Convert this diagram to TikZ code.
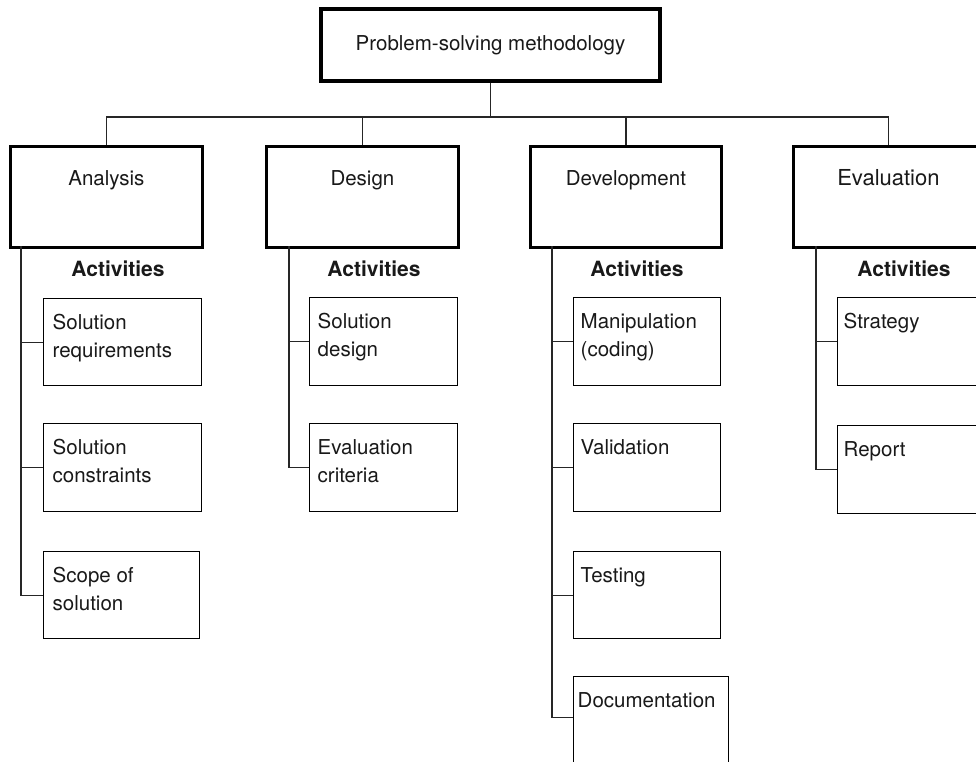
\documentclass[tikz,border=0pt]{standalone}
\usepackage{fontspec}
\setmainfont{TeX Gyre Heros}
\newcommand{\boxtxt}[4]{\vbox to #2{\hsize=#1\parindent=0pt\leftskip=#3\rightskip=0pt plus 1fil\baselineskip=28pt\noindent\rule{0pt}{31pt}#4\par\vfil}}
\newcommand{\phasetxt}[3]{\vbox to #2{\hsize=#1\parindent=0pt\leftskip=0pt plus 1fil\rightskip=0pt plus 1fil\parfillskip=0pt\noindent\rule{0pt}{39pt}#3\par\vfil}}
\begin{document}
\begin{tikzpicture}[x=1pt,y=-1pt,
  every node/.style={font=\fontsize{20.5}{28}\selectfont, text=black!90},
  topbox/.style={draw, line width=4pt, minimum width=339pt, minimum height=72pt, inner sep=0pt},
  phasebox/.style={draw, line width=2.8pt, anchor=north west, inner sep=0pt},
  actbox/.style={draw, line width=1.4pt, anchor=north west, inner sep=0pt},
  actlab/.style={font=\fontsize{21}{24}\selectfont\bfseries, inner sep=0pt},
  conn/.style={line width=1.3pt, black!85}
]
\useasboundingbox[fill=white] (0,0) rectangle (976,762);

% top
\node[topbox] (top) at (490.5,45) {Problem-solving methodology};
\coordinate (bus) at (490.5,117);

% phases
\node[phasebox] (an) at (9,145) {\phasetxt{192pt}{101pt}{Analysis}};
\node[phasebox] (de) at (265,145) {\phasetxt{192pt}{101pt}{Design}};
\node[phasebox] (dv) at (529,145) {\phasetxt{191pt}{101pt}{Development}};
\node[phasebox] (ev) at (792,145) {\phasetxt{190pt}{101pt}{\fontsize{22}{26}\selectfont Evaluation}};

\draw[conn] (top.south) -- (bus);
\draw[conn] (an.north) |- (bus);
\draw[conn] (de.north) |- (bus);
\draw[conn] (dv.north) |- (bus);
\draw[conn] (ev.north) |- (bus);

% activity headings
\node[actlab] (ah) at (118,269) {Activities};
\node[actlab] (dh) at (374,269) {Activities};
\node[actlab] (vh) at (637,269) {Activities};
\node[actlab] (eh) at (904,269) {Activities};

% analysis activities
\node[actbox] (a1) at (43,298) {\boxtxt{158pt}{87pt}{9pt}{Solution\\requirements}};
\node[actbox] (a2) at (43,423) {\boxtxt{158pt}{88pt}{9pt}{Solution\\constraints}};
\node[actbox] (a3) at (43,551) {\boxtxt{156pt}{87pt}{9pt}{Scope of\\solution}};
% design activities
\node[actbox] (d1) at (309,297) {\boxtxt{148pt}{88pt}{8pt}{Solution\\design}};
\node[actbox] (d2) at (309,423) {\boxtxt{148pt}{88pt}{8pt}{Evaluation\\criteria}};
% development activities
\node[actbox] (v1) at (573,297) {\boxtxt{147pt}{88pt}{7pt}{Manipulation\\(coding)}};
\node[actbox] (v2) at (573,423) {\boxtxt{147pt}{88pt}{7pt}{Validation}};
\node[actbox] (v3) at (573,551) {\boxtxt{147pt}{87pt}{7pt}{Testing}};
\node[actbox] (v4) at (573,676) {\boxtxt{155pt}{88pt}{4pt}{Documentation}};
% evaluation activities
\node[actbox] (e1) at (837,297) {\boxtxt{150pt}{88pt}{6pt}{Strategy}};
\node[actbox] (e2) at (837,425) {\boxtxt{150pt}{88pt}{6pt}{Report}};

% spines
\coordinate (as) at (21,246);
\coordinate (ds) at (289,246);
\coordinate (vs) at (552,246);
\coordinate (es) at (816,246);

\draw[conn] (as) |- (a1.west);
\draw[conn] (as) |- (a2.west);
\draw[conn] (as) |- (a3.west);
\draw[conn] (ds) |- (d1.west);
\draw[conn] (ds) |- (d2.west);
\draw[conn] (vs) |- (v1.west);
\draw[conn] (vs) |- (v2.west);
\draw[conn] (vs) |- (v3.west);
\draw[conn] (vs) |- ([yshift=3pt]v4.west);
\draw[conn] (es) |- (e1.west);
\draw[conn] (es) |- (e2.west);
\end{tikzpicture}
\end{document}
